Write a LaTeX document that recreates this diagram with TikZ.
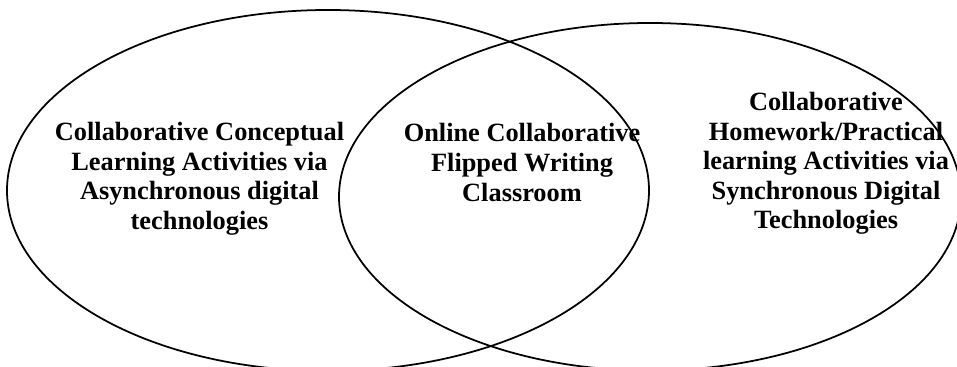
\documentclass[tikz,border=0pt]{standalone}
\usepackage{fontspec}
\setmainfont{Liberation Serif}
\usetikzlibrary{positioning}

\tikzset{
  ring/.style={line width=1pt},
  blurb/.style={align=center,inner sep=0pt,font=\fontsize{15}{16.8}\selectfont\bfseries}
}

\begin{document}
\begin{tikzpicture}[x=0.02cm,y=-0.02cm]
       \useasboundingbox (0,0) rectangle (957,367);
       \clip (0,0) rectangle (957,367);
       \coordinate (Lc) at (328,190.5);
       \coordinate (Rc) at (650,196.8);
       \draw[ring] (Lc) ellipse [x radius=321, y radius=180.5];
       \draw[ring] (Rc) ellipse [x radius=311, y radius=173.8];
       \node[blurb] (async) at (199.5,179) {Collaborative Conceptual\\Learning Activities via\\Asynchronous digital\\technologies};
       \node[blurb] (flipped) at (522,162.5) {Online Collaborative\\Flipped Writing\\Classroom};
       \node[blurb] (sync) at (826,163.4) {Collaborative\\Homework/Practical\\learning Activities via\\Synchronous Digital\\Technologies};
     \end{tikzpicture}
\end{document}
